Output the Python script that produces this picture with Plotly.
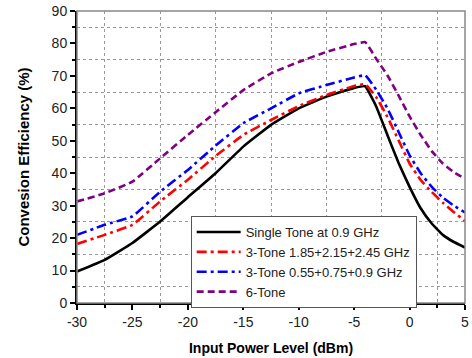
import plotly.graph_objects as go

x_pts = [-30, -27.5, -25, -22.5, -20, -17.5, -15, -12.5, -10, -7.5, -5, -4, -3, -2, -1, 0, 1, 2, 3, 4, 5]
single_tone = [9.7, 13.3, 18.5, 25.1, 32.6, 40.0, 48.2, 54.9, 60.0, 63.6, 66.3, 66.8, 60.5, 51.8, 43.2, 35.8, 29.2, 24.5, 21.0, 18.8, 17.1]
tone3_high = [18.2, 21.0, 24.1, 31.3, 38.0, 45.3, 51.8, 56.4, 60.7, 64.1, 66.9, 67.4, 63.4, 57.4, 50.2, 43.0, 37.9, 34.2, 30.9, 28.0, 25.3]
tone3_low = [21.0, 24.1, 26.7, 34.3, 41.0, 48.5, 55.4, 60.0, 64.6, 67.2, 69.5, 70.2, 65.7, 60.0, 52.8, 45.5, 40.0, 35.8, 32.5, 30.0, 27.9]
tone6 = [31.3, 33.8, 37.4, 44.6, 51.8, 58.8, 65.6, 70.8, 74.3, 77.4, 79.8, 80.4, 75.2, 70.2, 64.0, 57.5, 51.8, 46.8, 43.0, 40.3, 38.3]

names = ["Single Tone at 0.9 GHz", "3-Tone 1.85+2.15+2.45 GHz", "3-Tone 0.55+0.75+0.9 GHz", "6-Tone"]
x_ticks = [-30, -25, -20, -15, -10, -5, 0, 5]
y_ticks = [0, 10, 20, 30, 40, 50, 60, 70, 80, 90]

fig = go.Figure()
styles = [
    (single_tone, "black", "solid"),
    (tone3_high, "#FF0000", "10px,4px,3px,4px"),
    (tone3_low, "#0000FF", "10px,4px,3px,4px"),
    (tone6, "#800080", "7px,4px"),
]
for (vals, col, dash), nm in zip(styles, names):
    fig.add_trace(go.Scatter(x=x_pts, y=vals, mode="lines", name=nm,
                             line=dict(color=col, width=2.6, dash=dash, shape="spline", smoothing=0.3)))

fig.update_layout(
    width=472, height=358,
    margin=dict(l=77, r=3, t=11, b=55),
    plot_bgcolor="white", paper_bgcolor="white",
    font=dict(family="Liberation Sans, Arial", size=14, color="#222"),
    legend=dict(x=0.293, y=0.298, xanchor="left", yanchor="top",
                bgcolor="white", bordercolor="#555", borderwidth=1,
                font=dict(size=13, color="#222"), itemwidth=44,
                tracegroupgap=0),
    shapes=[dict(type="rect", xref="paper", yref="paper", x0=0, y0=0, x1=1, y1=1,
                 line=dict(color="#888", width=1.5), layer="above")],
)
fig.update_xaxes(
    range=[-30, 5], tickvals=x_ticks, ticktext=[str(v) for v in x_ticks],
    ticklabeloverflow="allow",
    showgrid=False, zeroline=False, showline=True, linecolor="black", linewidth=2,
    ticks="outside", ticklen=5, tickwidth=1.5, tickcolor="black",
    title=dict(text="<b>Input Power Level (dBm)</b>", font=dict(size=14, color="black"), standoff=14),
    minor=dict(tick0=-27.5, dtick=5, showgrid=True, gridcolor="#999", griddash="dot", gridwidth=1,
               ticks="outside", ticklen=3, tickcolor="black"),
)
fig.update_yaxes(
    range=[0, 90], tickvals=y_ticks, ticktext=[str(v) for v in y_ticks],
    showgrid=False, zeroline=False, showline=True, linecolor="black", linewidth=2,
    ticks="outside", ticklen=5, tickwidth=1.5, tickcolor="black",
    title=dict(text="<b>Convesion Efficiency (%)</b>", font=dict(size=15, color="black"), standoff=18),
    minor=dict(tick0=5, dtick=10, showgrid=True, gridcolor="#999", griddash="dot", gridwidth=1,
               ticks="outside", ticklen=3, tickcolor="black"),
)
fig.write_html("out.html")
